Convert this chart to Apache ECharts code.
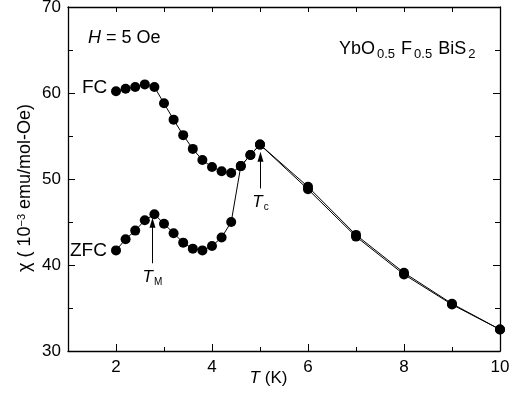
<!DOCTYPE html>
<html><head><meta charset="utf-8">
<script src="https://cdn.jsdelivr.net/npm/echarts@6/dist/echarts.min.js"></script>
<style>html,body{margin:0;padding:0;background:#fff}#c{width:519px;height:396px}</style>
</head><body><div id="c"></div>
<script>
var fcT   = [2.0, 2.2, 2.4, 2.6, 2.8, 3.0, 3.2, 3.4, 3.6, 3.8, 4.0, 4.2, 4.4, 4.6, 4.8, 5.0, 6, 7, 8, 9, 10];
var fcChi = [60.2, 60.5, 60.7, 61.0, 60.7, 58.8, 56.9, 55.1, 53.5, 52.2, 51.4, 50.9, 50.7, 51.5, 52.8, 54.0, 49.1, 43.5, 39.1, 35.5, 32.5];
var zfcT   = [2.0, 2.2, 2.4, 2.6, 2.8, 3.0, 3.2, 3.4, 3.6, 3.8, 4.0, 4.2, 4.4, 4.6, 4.8, 5.0, 6, 7, 8, 9, 10];
var zfcChi = [41.7, 43.0, 44.0, 45.2, 45.9, 44.8, 43.7, 42.6, 41.9, 41.7, 42.2, 43.2, 45.0, 51.5, 52.8, 54.0, 48.8, 43.3, 38.9, 35.4, 32.5];
var xTickLabels = [2, 4, 6, 8, 10];
var yTickLabels = [30, 40, 50, 60, 70];
// annotation arrows: [T, chi start, chi tip]
var arrowTM = [2.76, 40.2, 44.9];
var arrowTc = [5.01, 48.9, 52.6];
// compound formula pieces: [text, isSubscript]
var formulaParts = [['YbO',0],['0.5',1],['F',0],['0.5',1],['BiS',0],['2',1]];

function pairs(xs, ys){ return xs.map(function(x,i){return [x, ys[i]];}); }
var FONT = 'Liberation Sans, Arial, sans-serif';
var mctx = document.createElement('canvas').getContext('2d');
function textW(t, size){ mctx.font = size + 'px ' + FONT; return mctx.measureText(t).width; }

// build formula text pieces
var formulaEls = [];
(function(){
  var x = 339, mainMid = 49, subMid = 54.5;
  formulaParts.forEach(function(p){
    var sub = p[1] === 1, size = sub ? 13 : 18;
    if (sub) x += 2;
    formulaEls.push({type:'text', x:x, y: sub ? subMid : mainMid,
      style:{text:p[0], font:size + 'px ' + FONT, fill:'#000', verticalAlign:'middle', align:'left'}});
    x += textW(p[0], size) + (sub ? 6 : 0);
  });
})();

var chart = echarts.init(document.getElementById('c'));
var axisCommon = {
  axisLine:{show:true, lineStyle:{color:'#000', width:1.3}},
  splitLine:{show:false}
};
chart.setOption({
  animation:false,
  backgroundColor:'#fff',
  textStyle:{fontFamily:FONT, color:'#000'},
  grid:{left:68, right:19, top:7, bottom:45, containLabel:false, outerBoundsMode:'none'},
  xAxis:[
    Object.assign({type:'value', min:1, max:10, interval:1, position:'bottom',
      axisTick:{inside:true, length:4, lineStyle:{color:'#000'}},
      axisLabel:{color:'#000', fontSize:17, fontFamily:FONT, margin:8,
        formatter:function(v){ return xTickLabels.indexOf(v) >= 0 ? String(v) : ''; }},
      name:'{i|T} (K)', nameLocation:'middle', nameGap:19, nameMoveOverlap:false,
      nameTextStyle:{fontSize:17, fontFamily:FONT, color:'#000', padding:[0,31,0,0],
        rich:{i:{fontStyle:'italic', fontSize:17, fontFamily:FONT}}}
    }, axisCommon),
    Object.assign({type:'value', min:1, max:10, interval:1, position:'top',
      axisTick:{inside:true, length:5, lineStyle:{color:'#000'}},
      axisLabel:{show:false}}, axisCommon),
    {type:'value', min:1, max:10, position:'bottom', splitLine:{show:false},
      axisLine:{show:false},
      axisTick:{show:true, inside:true, length:7, customValues:xTickLabels, lineStyle:{color:'#000'}},
      axisLabel:{show:false}}
  ],
  yAxis:[
    Object.assign({type:'value', min:30, max:70, interval:10, position:'left',
      axisTick:{inside:true, length:7, lineStyle:{color:'#000'}},
      minorTick:{show:true, splitNumber:2, length:5, lineStyle:{color:'#000'}},
      axisLabel:{color:'#000', fontSize:17, fontFamily:FONT, margin:7,
        formatter:function(v){ return yTickLabels.indexOf(v) >= 0 ? String(v) : ''; }},
      name:'\u03c7 ( 10{sup|\u22123} emu/mol-Oe)', nameLocation:'middle', nameGap:34, nameRotate:90,
      nameMoveOverlap:false,
      nameTextStyle:{fontSize:18, fontFamily:FONT, color:'#000', padding:[0,18,0,0],
        rich:{sup:{fontSize:11, verticalAlign:'top', fontFamily:FONT}}}
    }, axisCommon),
    Object.assign({type:'value', min:30, max:70, interval:10, position:'right',
      axisTick:{inside:true, length:7, lineStyle:{color:'#000'}},
      minorTick:{show:true, splitNumber:2, length:5, lineStyle:{color:'#000'}},
      axisLabel:{show:false}}, axisCommon)
  ],
  series:[
    {name:'ZFC', type:'line', data:pairs(zfcT, zfcChi), symbol:'circle', symbolSize:10,
      itemStyle:{color:'#000'}, lineStyle:{color:'#000', width:1}, z:3,
      markLine:{silent:true, symbol:['none','triangle'], symbolSize:[6,10], precision:3,
        lineStyle:{color:'#000', width:1, type:'solid'},
        label:{show:true, position:'start', distance:3, color:'#000', fontFamily:FONT,
          formatter:'{i|T}{s|M}',
          rich:{i:{fontStyle:'italic', fontSize:17, fontFamily:FONT, color:'#000'},
                s:{fontSize:10, fontFamily:FONT, color:'#000', padding:[11,0,0,1]}}},
        data:[
          [{coord:[arrowTM[0], arrowTM[1]]},{coord:[arrowTM[0], arrowTM[2]]}],
          [{coord:[arrowTc[0], arrowTc[1]], label:{formatter:'{i|T}{s|c}'}},{coord:[arrowTc[0], arrowTc[2]]}]
        ]}
    },
    {name:'FC', type:'line', data:pairs(fcT, fcChi), symbol:'circle', symbolSize:10,
      itemStyle:{color:'#000'}, lineStyle:{color:'#000', width:1}, z:4}
  ],
  graphic:[
    {type:'text', left:88, top:29, style:{text:'{i|H} = 5 Oe', font:'18px '+FONT, fill:'#000',
      rich:{i:{fontStyle:'italic', fontSize:18, fontFamily:FONT, fill:'#000'}}}},
    {type:'group', children:formulaEls},
    {type:'text', left:82, top:78, style:{text:'FC', font:'19px '+FONT, fill:'#000'}},
    {type:'text', left:70, top:241, style:{text:'ZFC', font:'19px '+FONT, fill:'#000'}}
  ]
});
</script></body></html>
